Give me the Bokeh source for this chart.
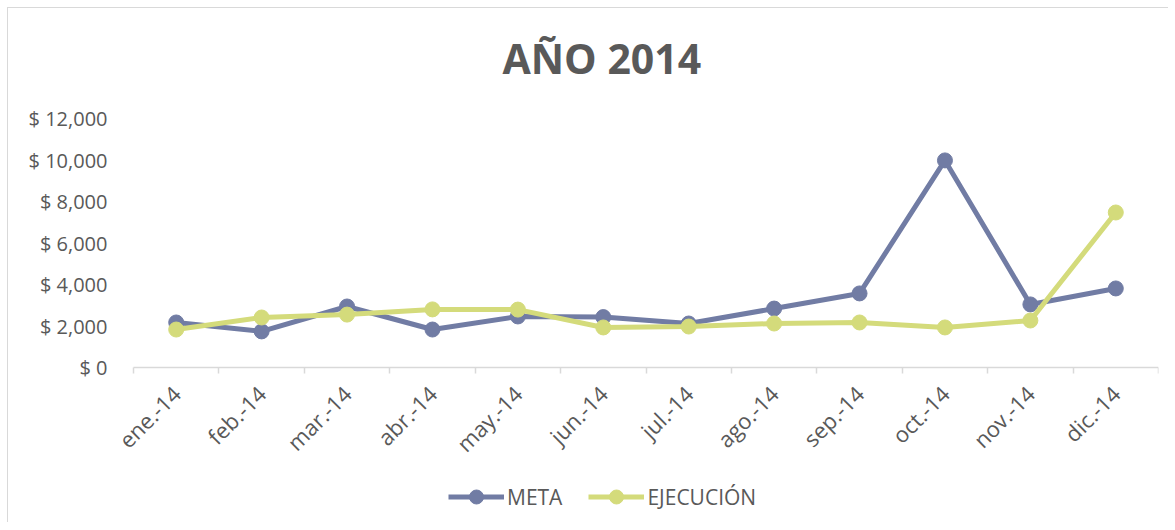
from bokeh.plotting import figure
from bokeh.models import FixedTicker, Legend, LegendItem, ColumnDataSource, Range1d
from bokeh.embed import file_html
from bokeh.resources import INLINE
import math

months = ["ene.-14", "feb.-14", "mar.-14", "abr.-14", "may.-14", "jun.-14",
          "jul.-14", "ago.-14", "sep.-14", "oct.-14", "nov.-14", "dic.-14"]
meta = [2170, 1740, 2940, 1830, 2460, 2430, 2120, 2840, 3570, 9980, 3040, 3810]
ejecucion = [1830, 2410, 2550, 2800, 2790, 1930, 1975, 2120, 2170, 1930, 2265, 7470]
y_ticks = [0, 2000, 4000, 6000, 8000, 10000, 12000]
y_labels = ["$ 0", "$ 2,000", "$ 4,000", "$ 6,000", "$ 8,000", "$ 10,000", "$ 12,000"]

META_C = "#717CA4"
EJEC_C = "#D4DB7B"
TXT = "#595959"
FONT = "Open Sans"

# layout: 249 px for the 0..12000 span; frame extends 14 px above and 155 px below
PX_PER_UNIT = 249 / 12000
Y_HI = 12000 + 14 / PX_PER_UNIT
Y_LO = -155 / PX_PER_UNIT
# horizontal: 1025 px for the 12 categories; frame extends 20 px further left
PX_PER_CAT = 1025 / 12
X_LO = 0.5 - 20 / PX_PER_CAT

xs = list(range(1, len(months) + 1))
src = ColumnDataSource(dict(x=xs, meta=meta, ejec=ejecucion))

p = figure(frame_width=1045, frame_height=418, output_backend="svg", toolbar_location=None,
           x_range=Range1d(X_LO, len(months) + 0.5), y_range=Range1d(Y_LO, Y_HI),
           min_border_left=105, min_border_right=10, min_border_top=96,
           min_border_bottom=0)
p.outline_line_color = None
p.xgrid.visible = False
p.ygrid.visible = False
p.styles = {"border-left": "1px solid #d9d9d9", "border-top": "1px solid #d9d9d9",
            "margin-left": "7px", "margin-top": "7px"}

p.title.text = "AÑO 2014"
p.title.align = "left"
p.title.offset = 389
p.title.text_font = FONT
p.title.text_font_style = "bold"
p.title.text_font_size = "41px"
p.title.text_color = TXT
p.title.standoff = 37

# x axis, drawn at y = 0 inside the frame
p.xaxis.fixed_location = 0
p.xaxis.bounds = (0.5, len(months) + 0.5)
p.xaxis.ticker = FixedTicker(ticks=xs, minor_ticks=[i + 0.5 for i in range(0, len(months) + 1)])
p.xaxis.major_label_overrides = {i: m for i, m in zip(xs, months)}
p.xaxis.major_label_orientation = math.pi / 4
p.xaxis.major_tick_out = 0
p.xaxis.major_tick_in = 0
p.xaxis.minor_tick_out = 6
p.xaxis.minor_tick_in = 0
p.xaxis.minor_tick_line_color = "#d9d9d9"
p.xaxis.minor_tick_line_width = 1.5
p.xaxis.axis_line_color = "#d9d9d9"
p.xaxis.axis_line_width = 1.5
p.xaxis.major_label_text_font = FONT
p.xaxis.major_label_text_font_size = "22px"
p.xaxis.major_label_text_color = TXT
p.xaxis.major_label_standoff = 16

# y axis
p.yaxis.ticker = FixedTicker(ticks=y_ticks)
p.yaxis.major_label_overrides = {t: l for t, l in zip(y_ticks, y_labels)}
p.yaxis.axis_line_color = None
p.yaxis.major_tick_line_color = None
p.yaxis.minor_tick_line_color = None
p.yaxis.major_label_text_font = FONT
p.yaxis.major_label_text_font_size = "20px"
p.yaxis.major_label_text_color = TXT
p.yaxis.major_label_standoff = 0

l1 = p.line("x", "meta", source=src, line_color=META_C, line_width=5)
s1 = p.scatter("x", "meta", source=src, size=15, fill_color=META_C, line_color=META_C)
l2 = p.line("x", "ejec", source=src, line_color=EJEC_C, line_width=5)
s2 = p.scatter("x", "ejec", source=src, size=15, fill_color=EJEC_C, line_color=EJEC_C)

legend = Legend(items=[LegendItem(label="META", renderers=[l1, s1]),
                       LegendItem(label="EJECUCIÓN", renderers=[l2, s2])],
                orientation="horizontal", location=(335, 8))
legend.label_text_font = FONT
legend.label_text_font_size = "21px"
legend.label_text_color = TXT
legend.glyph_width = 56
legend.glyph_height = 35
legend.spacing = 26
legend.label_standoff = 3
legend.padding = 0
legend.margin = 0
legend.border_line_color = None
legend.background_fill_alpha = 0
p.add_layout(legend, "center")

open("out.html", "w").write(file_html(p, INLINE))
